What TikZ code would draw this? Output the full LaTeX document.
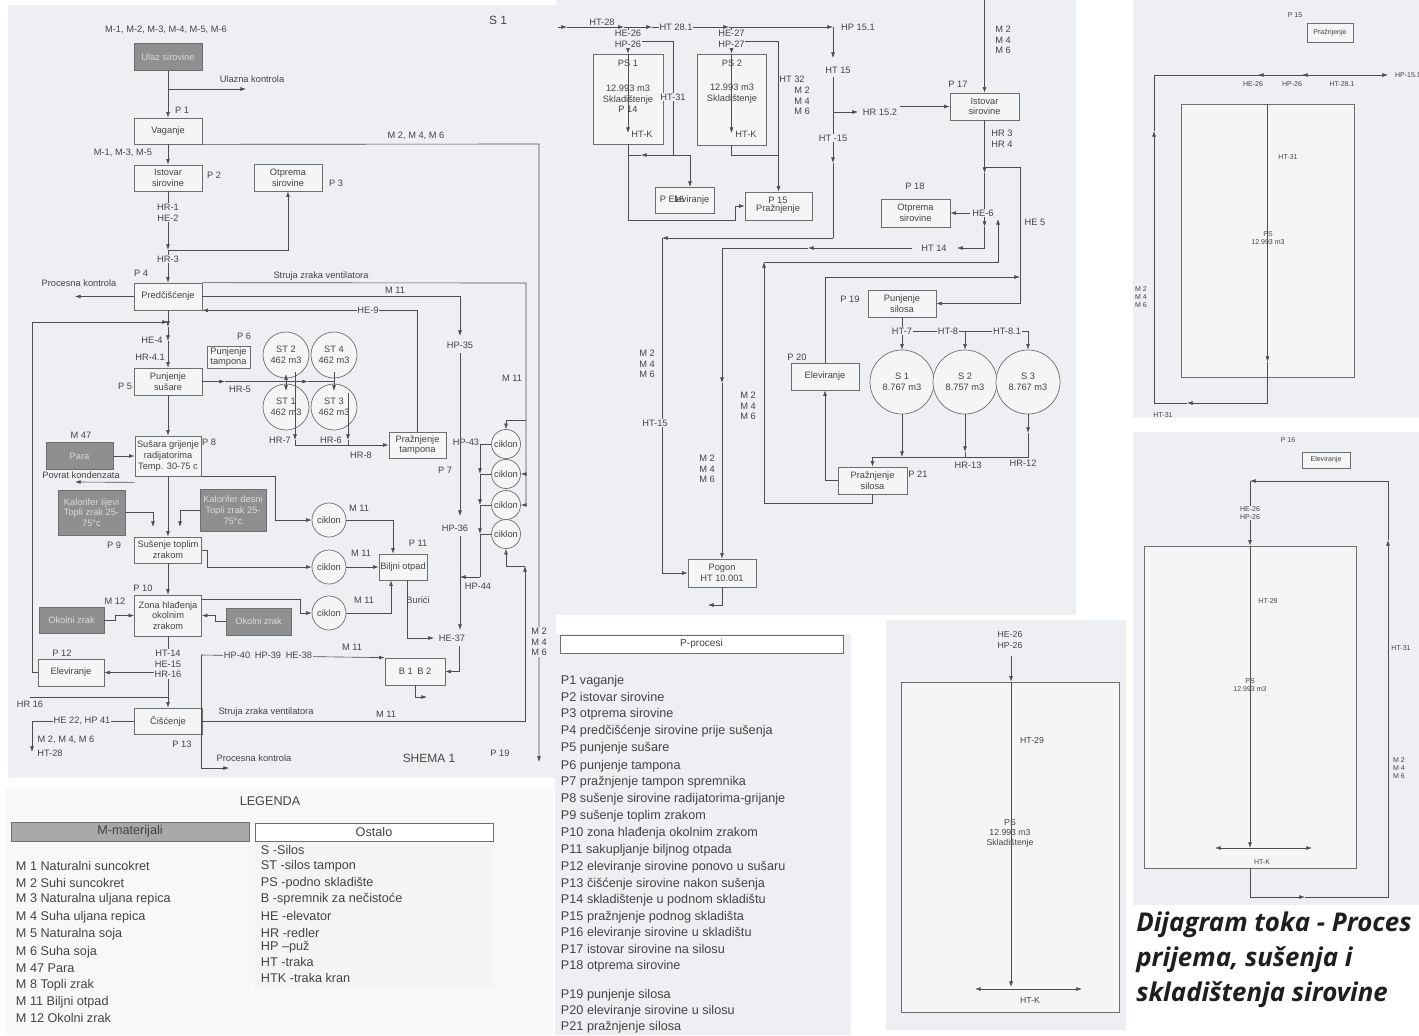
\documentclass[tikz,border=0pt]{standalone}
\usepackage{fontspec}
\setmainfont{Liberation Sans}
\newfontfamily\titlefont{Open Sans}
\usetikzlibrary{arrows.meta}

\definecolor{panel}{HTML}{EEEFF2}
\definecolor{boxfill}{HTML}{F5F5F6}
\definecolor{linec}{HTML}{4D4D4D}
\definecolor{boxc}{HTML}{6E6E6E}
\definecolor{txt}{HTML}{444444}
\definecolor{darkbox}{HTML}{8F8F8F}
\definecolor{darktxt}{HTML}{DADADA}
\definecolor{headbox}{HTML}{A8A8A8}
\definecolor{titc}{HTML}{1E1E1E}

\newcommand{\diagf}{\fontsize{6.6}{7.6}\selectfont}
\newcommand{\legf}{\fontsize{9}{10.5}\selectfont}
\newcommand{\midf}{\fontsize{6.2}{7.2}\selectfont}
\newcommand{\tinyf}{\fontsize{5}{5.8}\selectfont}
\newcommand{\shemaf}{\fontsize{8.5}{10}\selectfont}
\newcommand{\titlef}{\fontsize{18.4}{22}\titlefont\bfseries\itshape}

\begin{document}
\begin{tikzpicture}[
    x=0.25mm, y=-0.25mm,
    >={Latex[length=4pt,width=2.8pt]},
    box/.style={draw=boxc, line width=0.5pt, fill=boxfill, text=txt,
        align=center, inner sep=0.5pt, font=\diagf},
    dbox/.style={box, fill=darkbox, text=darktxt},
    sz/.style 2 args={minimum width=#1*0.25mm, minimum height=#2*0.25mm},
    csz/.style={minimum size=#1*0.25mm},
    circ/.style={circle, draw=boxc, line width=0.5pt, fill=boxfill, text=txt,
        align=center, inner sep=0pt, font=\diagf},
    ln/.style={draw=linec, line width=0.45pt},
    arr/.style={ln, ->},
    dbl/.style={ln, <->},
    lbl/.style={text=txt, font=\diagf, inner sep=0.5pt, align=center},
    onl/.style={lbl, fill=panel}
]
\fill[white] (0,0) rectangle (1419,1035);
\useasboundingbox (0,0) rectangle (1419,1035);
% panels
\fill[panel] (8,5) rectangle (556,778);
\fill[panel] (556,0) rectangle (1076,615);
\fill[panel!45!white] (5,788) rectangle (553,1035);
\fill[panel!70!white] (255,842) rectangle (493,987);
\fill[panel] (555,634) rectangle (851,1035);
\fill[panel] (886,620) rectangle (1126,1030);
\fill[panel] (1133,0) rectangle (1419,418);
\fill[panel] (1133,432) rectangle (1419,905);

% ---------- SHEMA 1: prijem i susenje
\node[dbox, sz={68}{27}] (ulaz) at (168,57) {Ulaz sirovine};
\node[box, sz={68}{26}] (vaganje) at (168,131) {Vaganje};
\node[box, sz={68}{26}] (istovar) at (168,178) {Istovar\\sirovine};
\node[box, sz={68}{27}] (otprema) at (288,177.5) {Otprema\\sirovine};
\node[box, sz={68}{27}] (predc) at (168,296.5) {Predčišćenje};
\node[box, sz={68}{27}] (punsus) at (168,381.5) {Punjenje\\sušare};
\node[box, sz={43}{22}] (puntamp) at (228.5,357) {Punjenje\\tampona};
\node[circ, csz=46] (st2) at (286,355) {ST 2\\462 m3};
\node[circ, csz=46] (st4) at (334,355) {ST 4\\462 m3};
\node[circ, csz=46] (st1) at (286,407) {ST 1\\462 m3};
\node[circ, csz=46] (st3) at (334,407) {ST 3\\462 m3};
\node[box, sz={57}{26}] (praztamp) at (417.5,445) {Pražnjenje\\tampona};
\node[box, sz={66}{40}] (susara) at (168,456) {Sušara grijenje\\radijatorima\\Temp. 30-75 c};
\node[dbox, sz={67}{27}] (para) at (79.5,456) {Para};
\node[dbox, sz={67}{45}] (kallij) at (91.5,512.5) {Kalorifer lijevi\\Topli zrak 25-\\75°c};
\node[dbox, sz={66}{42}] (kaldes) at (233,510) {Kalorifer desni\\Topli zrak 25-\\75°c};
\node[box, sz={67}{26}] (sustop) at (168,550) {Sušenje toplim\\zrakom};
\node[box, sz={67}{41}] (zona) at (168,615.5) {Zona hlađenja\\okolnim\\zrakom};
\node[dbox, sz={65}{26}] (okolL) at (71.5,620) {Okolni zrak};
\node[dbox, sz={65}{27}] (okolD) at (258.5,621.5) {Okolni zrak};
\node[box, sz={66}{27}] (elev12) at (71,672.5) {Eleviranje};
\node[box, sz={68}{26}] (ciscenje) at (168,721) {Čišćenje};
\node[box, sz={48}{26}] (biljni) at (403,567) {Biljni otpad};
\node[box, sz={60}{27}] (bspr) at (415,671.5) {B 1\enspace B 2};
\node[circ, csz=34] (ck1) at (329,520) {ciklon};
\node[circ, csz=34] (ck2) at (329,567) {ciklon};
\node[circ, csz=34] (ck3) at (329,613) {ciklon};
\node[circ, csz=29] (cc1) at (506,444) {ciklon};
\node[circ, csz=29] (cc2) at (506,474) {ciklon};
\node[circ, csz=29] (cc3) at (506,505) {ciklon};
\node[circ, csz=29] (cc4) at (506,534) {ciklon};

\coordinate (ukA) at (168,89);
\coordinate (ukB) at (246,89);
\coordinate (desnoA) at (539,144);
\coordinate (desnoB) at (539,762);
\coordinate (hr3) at (168,250);
\coordinate (pkA) at (75,296.5);
\coordinate (szA) at (526,283);
\coordinate (szB) at (526,420);
\coordinate (szC) at (526,474);
\coordinate (szD) at (526,505);
\coordinate (szE) at (506,420);
\coordinate (m11A) at (460,296.5);
\coordinate (hp35) at (460,336);
\coordinate (hp35b) at (460,353);
\coordinate (hp36) at (460,516);
\coordinate (lpA) at (32,322);
\coordinate (lpB) at (168,322);
\coordinate (he4a) at (168,327);
\coordinate (he4b) at (168,341);
\coordinate (hr5a) at (225,381.5);
\coordinate (hr5b) at (308,381.5);
\coordinate (hr5c) at (334,381.5);
\coordinate (st21a) at (286,374);
\coordinate (st21b) at (286,391);
\coordinate (st43a) at (334,372);
\coordinate (st43b) at (334,391);
\coordinate (hr7a) at (295,372);
\coordinate (hr7b) at (295,440);
\coordinate (hr6a) at (348,393);
\coordinate (hr6b) at (348,440);
\coordinate (hr6c) at (348,445);
\coordinate (povA) at (75,482);
\coordinate (klA) at (153,512.5);
\coordinate (klB) at (153,527);
\coordinate (kdA) at (180,510);
\coordinate (kdB) at (180,527);
\coordinate (c1A) at (275,520);
\coordinate (c1B) at (393,520);
\coordinate (c2A) at (207,567);
\coordinate (okA) at (115,620);
\coordinate (okB) at (215,621.5);
\coordinate (z3A) at (300,613);
\coordinate (c3B) at (391,613);
\coordinate (buA) at (407,638);
\coordinate (buB) at (434,638);
\coordinate (h36A) at (460,536);
\coordinate (h36B) at (460,630);
\coordinate (h37A) at (459,646);
\coordinate (h37B) at (459,671.5);
\coordinate (boA) at (415,697);
\coordinate (boB) at (427,697);
\coordinate (hp40A) at (201,655);
\coordinate (hp40B) at (201,768);
\coordinate (pkB) at (229,768);
\coordinate (elA) at (168,672.5);
\coordinate (hr16A) at (30,697);
\coordinate (hr16B) at (168,697);
\coordinate (he22A) at (32,721);
\coordinate (he22B) at (32,752);
\coordinate (slA) at (525,721);
\coordinate (slB) at (525,566);
\coordinate (slC) at (506,566);
\coordinate (q1) at (480,444);
\coordinate (q2) at (480,474);
\coordinate (q3) at (480,505);
\coordinate (q4) at (480,534);
\coordinate (q5) at (480,577);
\coordinate (q6) at (460,577);

\draw[arr] (ulaz) -- (vaganje);
\draw[arr] (ukA) -- (ukB);
\draw[arr] (vaganje) -- (istovar);
\draw[arr] (vaganje.south east) -- (desnoA) -- (desnoB);
\draw[arr] (istovar) -- (hr3);
\draw[arr] (hr3) -| (otprema);
\draw[arr] (hr3) -- (predc);
\draw[arr] (predc) -- (pkA);
\draw[ln] (predc.north east) -- (szA) -- (szD);
\draw[arr] (szB) -- (szE) -- (cc1);
\draw[arr] (szC) -- (cc2);
\draw[arr] (szD) -- (cc3);
\draw[arr] (predc) -- (m11A) -- (hp35);
\draw[arr] (hp35b) -- (hp36);
\draw[arr] (praztamp) |- (predc.south east);
\draw[arr] (elev12) -| (lpA) -- (lpB);
\draw[arr] (predc) -- (he4a);
\draw[arr] (he4a) -- (he4b);
\draw[arr] (he4b) -- (punsus);
\draw[arr] (punsus) -- (hr5a);
\draw[arr] (hr5a) -- (hr5b);
\draw[ln] (hr5b) -- (hr5c);
\draw[dbl] (st21a) -- (st21b);
\draw[arr] (st43a) -- (st43b);
\draw[arr] (hr7a) -- (hr7b);
\draw[arr] (hr7b) |- (praztamp);
\draw[arr] (hr6a) -- (hr6b);
\draw[ln] (hr6b) -- (hr6c);
\draw[arr] (punsus) -- (susara);
\draw[arr] (para) -- (susara);
\draw[arr] ([yshift=-1.5mm]susara.south west) -- (povA);
\draw[arr] (kallij) -- (klA) -- (klB);
\draw[arr] (kaldes) -- (kdA) -- (kdB);
\draw[arr] (susara) -- (sustop);
\draw[arr] (susara.south east) -| (c1A) -- (ck1);
\draw[arr] (ck1) -- (c1B) -- (c1B |- biljni.north);
\draw[arr] (sustop) -| (c2A) -- (ck2);
\draw[arr] (ck2) -- (biljni);
\draw[arr] (sustop) -- (zona);
\draw[arr] (okolL) -- (okA) |- (zona);
\draw[arr] (okolD) -- (okB) |- (zona);
\draw[arr] ([yshift=-1.25mm]zona.north east) -| (z3A) -- (ck3);
\draw[arr] (ck3) -- (c3B) -- (c3B |- biljni.south);
\draw[arr] (buA |- biljni.south) -- (buA) -- (buB);
\draw[arr] (h36A) -- (h36B);
\draw[arr] (h37A) -- (h37B) -- (bspr);
\draw[arr] (bspr) -- (boA) -- (boB);
\draw[arr] (hp40A) -- (bspr.north west);
\draw[arr] (hp40A) -- (hp40B) -- (pkB);
\draw[arr] (zona) -- (ciscenje);
\draw[arr] (elA) -- (elev12);
\draw[ln] (hr16A) -- (hr16B);
\draw[arr] (ciscenje) -- (he22A) -- (he22B);
\draw[arr] (ciscenje) -- (slA) -- (slB);
\draw[arr] (slB) -- (slC) -- (cc4);
\draw[arr] (q1) -- (q2);
\draw[arr] (q2) -- (q3);
\draw[arr] (q3) -- (q4);
\draw[ln] (q4) -- (q5);
\draw[arr] (q5) -- (q6);
\foreach \c/\q in {cc1/q1, cc2/q2, cc3/q3, cc4/q4}
    \draw[ln] (\q) -- (\c);

\node[lbl, font=\shemaf] (s1lbl) at (498,20) {S 1};
\node[lbl] (matIn) at (166,30) {M-1, M-2, M-3, M-4, M-5, M-6};
\node[lbl] (ulKon) at (252,79) {Ulazna kontrola};
\node[lbl] (p1) at (182,110) {P 1};
\node[lbl] (m246a) at (416,136) {M 2, M 4, M 6};
\node[lbl] (m135) at (123,153) {M-1, M-3, M-5};
\node[lbl] (p2) at (214,175) {P 2};
\node[lbl] (p3) at (336,183) {P 3};
\node[onl] (hr1) at (168,212.5) {HR-1\\HE-2};
\node[onl] (hr3l) at (168,259) {HR-3};
\node[lbl] (p4) at (141,273) {P 4};
\node[lbl] (prKon) at (79,283) {Procesna kontrola};
\node[lbl] (struja1) at (321,276) {Struja zraka ventilatora};
\node[lbl] (m11a) at (395,290) {M 11};
\node[onl] (hp35l) at (460,345) {HP-35};
\node[onl] (he9) at (368,310) {HE-9};
\node[lbl] (he4) at (152,340) {HE-4};
\node[lbl] (hr41) at (150,357) {HR-4.1};
\node[lbl] (p5) at (125,386) {P 5};
\node[lbl] (p6) at (244,336) {P 6};
\node[lbl] (hr5) at (240,389) {HR-5};
\node[lbl] (hr7) at (280,440) {HR-7};
\node[lbl] (hr6) at (331,440) {HR-6};
\node[lbl] (hr8) at (361,455) {HR-8};
\node[lbl] (p7) at (445,470) {P 7};
\node[lbl] (m47) at (81,435) {M 47};
\node[lbl] (povrat) at (81,475) {Povrat kondenzata};
\node[lbl] (p8) at (209,442) {P 8};
\node[lbl] (m11b) at (359,508) {M 11};
\node[lbl] (p9) at (114,545) {P 9};
\node[lbl] (m11c) at (361,553) {M 11};
\node[lbl] (p11) at (418,543) {P 11};
\node[lbl] (p10) at (143,588) {P 10};
\node[lbl] (m12) at (115,601) {M 12};
\node[lbl] (m11d) at (364,600) {M 11};
\node[lbl] (burici) at (418,600) {Burići};
\node[lbl] (hp36l) at (455,528) {HP-36};
\node[lbl] (he37) at (452,638) {HE-37};
\node[lbl] (hp43) at (466,442) {HP-43};
\node[lbl] (hp44) at (478,586) {HP-44};
\node[lbl] (m11e) at (512,378) {M 11};
\node[onl] (ht14) at (168,664) {HT-14\\HE-15\\HR-16};
\node[lbl] (p12) at (62,653) {P 12};
\node[lbl] (hr16) at (30,704) {HR 16};
\node[lbl] (p13) at (182,744) {P 13};
\node[onl] (he22) at (82,721) {HE 22, HP 41};
\node[lbl] (m246b) at (66,740) {M 2, M 4, M 6};
\node[lbl] (ht28a) at (50,753) {HT-28};
\node[lbl] (struja2) at (266,712) {Struja zraka ventilatora};
\node[lbl] (m11f) at (386,714) {M 11};
\node[onl] (hp40) at (268,655) {HP-40\enspace HP-39\enspace HE-38};
\node[lbl] (m11g) at (352,647) {M 11};
\node[lbl] (prKon2) at (254,758) {Procesna kontrola};
\node[lbl, font=\shemaf] (shema) at (429,758) {SHEMA 1};
\node[onl] (m246c) at (539,642) {M 2\\M 4\\M 6};
\node[lbl] (p19a) at (500,753) {P 19};

% ---------- skladistenje i silosi
\node[box, sz={70}{90}] (ps1) at (628,99) {};
\node[box, sz={69}{91}] (ps2) at (731.5,99.5) {};
\node[box, sz={59}{26}] (elev16) at (684.5,200) {P Eleviranje};
\node[box, sz={67}{28}] (praz15) at (778.5,206) {};
\node[box, sz={69}{27}] (ist17) at (984.5,106.5) {Istovar\\sirovine};
\node[box, sz={69}{28}] (otp18) at (915.5,213) {Otprema\\sirovine};
\node[box, sz={68}{27}] (punsil) at (902,303.5) {Punjenje\\silosa};
\node[circ, csz=64] (s1) at (902,382) {S 1\\8.767 m3};
\node[circ, csz=64] (s2) at (965,382) {S 2\\8.757 m3};
\node[circ, csz=64] (s3) at (1028,382) {S 3\\8.767 m3};
\node[box, sz={68}{27}] (elev20) at (825,376.5) {Eleviranje};
\node[box, sz={69}{27}] (prsil) at (872.5,480.5) {Pražnjenje\\silosa};
\node[box, sz={68}{28}] (pogon) at (722,573) {Pogon\\HT 10.001};

\coordinate (tA) at (558,27);
\coordinate (tB) at (567,27);
\coordinate (tC) at (624,27);
\coordinate (tD) at (652,27);
\coordinate (tF) at (729,27);
\coordinate (tG) at (833,27);
\coordinate (tH) at (833,58);
\coordinate (d26) at (628,27);
\coordinate (d27) at (731.5,27);
\coordinate (h31A) at (642,41);
\coordinate (h31B) at (673,155);
\coordinate (k1) at (628,133);
\coordinate (k2) at (731.5,133);
\coordinate (b1m) at (641,155);
\coordinate (b1) at (628,155);
\coordinate (b2e) at (690,187);
\coordinate (b3) at (628,220);
\coordinate (b4) at (735,220);
\coordinate (p27A) at (745,41);
\coordinate (p27M) at (778.5,155);
\coordinate (u1) at (833,77);
\coordinate (u2) at (833,112);
\coordinate (u3) at (833,163);
\coordinate (u4) at (833,238);
\coordinate (u5) at (662,238);
\coordinate (u7) at (858,112);
\coordinate (u8) at (900,106.5);
\coordinate (v0) at (984.5,0);
\coordinate (w1) at (984.5,167);
\coordinate (w2) at (984.5,173);
\coordinate (w3) at (984.5,227);
\coordinate (w4) at (984.5,248);
\coordinate (w5) at (957,248);
\coordinate (w6) at (912,248);
\coordinate (w7) at (808,248);
\coordinate (w8) at (722,248);
\coordinate (w9) at (722,383);
\coordinate (he6) at (970,213);
\coordinate (x1) at (1020,167);
\coordinate (x2) at (1020,303.5);
\coordinate (y2) at (1020,277);
\coordinate (z0) at (764,262);
\coordinate (z1) at (998,262);
\coordinate (z2) at (998,219);
\coordinate (z4) at (764,503);
\coordinate (sc1) at (902,331);
\coordinate (sc2) at (965,331);
\coordinate (sc3) at (1028,331);
\coordinate (r1) at (902,457);
\coordinate (r2) at (965,452);
\coordinate (r2c) at (965,457);
\coordinate (r3) at (1028,433);
\coordinate (r4) at (1028,457);
\coordinate (r5) at (872.5,457);
\coordinate (q20) at (825,480.5);
\coordinate (po1) at (722,605);
\coordinate (po2) at (708,605);

\draw[arr] (tA) -- (tB);
\draw[arr] (tB) -- (tC);
\draw[arr] (tC) -- (tD);
\draw[arr] (tD) -- (tF);
\draw[arr] (tF) -- (tG);
\draw[arr] (tG) -- (tH);
\draw[arr] (d26) -- (ps1);
\draw[arr] (d27) -- (ps2);
\draw[ln] (h31A) -| (h31B);
\draw[arr] (ps1.north) -- (k1);
\draw[arr] (ps2.north) -- (k2);
\draw[arr] (h31B) -- (b1m);
\draw[ln] (b1m) -- (b1);
\draw[arr] (h31B) -| (b2e);
\draw[arr] (ps1) -- (b3) -- (b4) |- (praz15);
\draw[arr] (p27A) -| (praz15);
\draw[ln] (ps2) |- (p27M);
\draw[ln] (u1) -- (u2);
\draw[arr] (u2) -- (u3);
\draw[ln] (u3) -- (u4);
\draw[arr] (u4) -- (u5);
\draw[arr] (u5) |- (pogon);
\draw[arr] (u2) -- (u7);
\draw[arr] (u8) -- (ist17);
\draw[arr] (v0) -- (ist17);
\draw[arr] (ist17) -- (w2);
\draw[arr] (w2) -- (w3);
\draw[arr] (he6) -- (otp18);
\draw[ln] (w3) -- (w4);
\draw[arr] (w4) -- (w5);
\draw[arr] (w6) -- (w7);
\draw[ln] (w7) -- (w8);
\draw[arr] (w8) -- (w9);
\draw[arr] (w9) -- (pogon);
\draw[arr] (w1) -- (x1) -- (x2) -- (punsil);
\draw[arr] (elev20) |- (y2);
\draw[arr] (prsil) |- (z4) -- (z0);
\draw[arr] (z0) -- (z1) -- (z2);
\draw[ln] (punsil) -- (sc1) -- (sc3);
\draw[arr] (sc1) -- (s1);
\draw[arr] (sc2) -- (s2);
\draw[arr] (sc3) -- (s3);
\draw[arr] (s1) -- (r1);
\draw[arr] (s2) -- (r2);
\draw[ln] (r2) -- (r2c);
\draw[arr] (s3) -- (r3);
\draw[ln] (r3) -- (r4) -- (r5);
\draw[arr] (r5) -- (prsil);
\draw[arr] (prsil) -- (q20) -- (elev20);
\draw[arr] (pogon) -- (po1) -- (po2);

\node[lbl] (ht28b) at (602,22) {HT-28};
\node[onl] (ht281) at (676,27) {HT 28.1};
\node[lbl] (hp151) at (858,27) {HP 15.1};
\node[onl] (he26a) at (628,39) {HE-26\\HP-26};
\node[onl] (he27) at (731.5,39) {HE-27\\HP-27};
\node[onl] (ht31a) at (673,97) {HT-31};
\node[lbl] (ps1t) at (628,63) {PS 1};
\node[lbl] (ps1v) at (628,99) {12.993 m3\\Skladištenje\\P 14};
\node[lbl] (htk1) at (642,134) {HT-K};
\node[lbl] (ps2t) at (732,63) {PS 2};
\node[lbl] (ps2v) at (732,94) {12.993 m3\\Skladištenje};
\node[lbl] (htk2) at (746,134) {HT-K};
\node[lbl] (ht32) at (792,79) {HT 32};
\node[lbl] (m246d) at (802,101) {M 2\\M 4\\M 6};
\node[lbl] (el16) at (679,199) {16};
\node[lbl] (p15a) at (778,200) {P 15};
\node[lbl] (praz15t) at (778,209) {Pražnjenje};
\node[lbl] (ht15) at (838,70) {HT 15};
\node[onl] (ht15b) at (833,138) {HT -15};
\node[lbl] (hr152) at (880,112) {HR 15.2};
\node[lbl] (m246e) at (1003,40) {M 2\\M 4\\M 6};
\node[lbl] (p17) at (958,84) {P 17};
\node[lbl] (hr34) at (1002,138.5) {HR 3\\HR 4};
\node[lbl] (p18) at (915,186) {P 18};
\node[onl] (he6l) at (983,213) {HE-6};
\node[lbl] (he5) at (1035,222) {HE 5};
\node[lbl] (ht14b) at (934,248) {HT 14};
\node[lbl] (p19b) at (850,299) {P 19};
\node[onl] (ht7) at (902,331) {HT-7};
\node[onl] (ht8) at (948,331) {HT-8};
\node[onl] (ht81) at (1007,331) {HT-8.1};
\node[lbl] (p20) at (797,357) {P 20};
\node[lbl] (m246f) at (647,364) {M 2\\M 4\\M 6};
\node[onl] (ht15c) at (655,423) {HT-15};
\node[lbl] (m246g) at (748,406) {M 2\\M 4\\M 6};
\node[lbl] (m246h) at (707,469) {M 2\\M 4\\M 6};
\node[lbl] (hr13) at (968,465) {HR-13};
\node[lbl] (hr12) at (1023,463) {HR-12};
\node[lbl] (p21) at (918,474) {P 21};

% ---------- P-procesi
\node[box, sz={283}{18}, fill=white, font=\fontsize{7.2}{8}\selectfont] (pproc) at (701.5,644) {P-procesi};
\foreach \n/\t/\y in {1/P1 vaganje/681, 2/P2 istovar sirovine/697,
    3/P3 otprema sirovine/714, 4/P4 predčišćenje sirovine prije sušenja/731,
    5/P5 punjenje sušare/748, 6/P6 punjenje tampona/766,
    7/P7 pražnjenje tampon spremnika/782,
    8/P8 sušenje sirovine radijatorima-grijanje/799,
    9/P9 sušenje toplim zrakom/816, 10/P10 zona hlađenja okolnim zrakom/833,
    11/P11 sakupljanje biljnog otpada/850,
    12/P12 eleviranje sirovine ponovo u sušaru/867,
    13/P13 čišćenje sirovine nakon sušenja/884,
    14/P14 skladištenje u podnom skladištu/900,
    15/P15 pražnjenje podnog skladišta/917,
    16/P16 eleviranje sirovine u skladištu/933,
    17/P17 istovar sirovine na silosu/949, 18/P18 otprema sirovine/966,
    19/P19 punjenje silosa/995, 20/P20 eleviranje sirovine u silosu/1011,
    21/P21 pražnjenje silosa/1027}
    \node[lbl, anchor=west, font=\legf] (proc\n) at (560,\y) {\t};

% ---------- legenda
\node[lbl, font=\legf] (legenda) at (270,801) {LEGENDA};
\node[box, sz={238}{19}, fill=headbox, font=\legf] (mmat) at (130,831.5) {M-materijali};
\node[box, sz={238}{18}, fill=white, font=\legf] (ostalo) at (374,832) {Ostalo};
\foreach \n/\t/\y in {1/M 1 Naturalni suncokret/866, 2/M 2 Suhi suncokret/883,
    3/M 3 Naturalna uljana repica/899, 4/M 4 Suha uljana repica/917,
    5/M 5 Naturalna soja/934, 6/M 6 Suha soja/952, 7/M 47 Para/968,
    8/M 8 Topli zrak/985, 9/M 11 Biljni otpad/1002, 10/M 12 Okolni zrak/1018}
    \node[lbl, anchor=west, font=\legf] (mat\n) at (15,\y) {\t};
\foreach \n/\t/\y in {1/S -Silos/850, 2/ST -silos tampon/866,
    3/PS -podno skladište/883, 4/B -spremnik za nečistoće/899,
    5/HE -elevator/916, 6/HR -redler/933, 7/HP –puž/947, 8/HT -traka/962,
    9/HTK -traka kran/978}
    \node[lbl, anchor=west, font=\legf] (ost\n) at (260,\y) {\t};

% ---------- podno skladiste (sredina dolje)
\node[box, sz={218}{330}] (psdole) at (1010,847) {};
\coordinate (md1) at (1011,656);
\coordinate (md2) at (1011,987);
\coordinate (hkA) at (975,989);
\coordinate (hkB) at (1082,989);
\draw[arr] (md1) -- (md1 |- psdole.north);
\draw[arr] (md1 |- psdole.north) -- (md2);
\draw[dbl] (hkA) -- (hkB);
\node[lbl, font=\midf] (he26b) at (1010,640) {HE-26\\HP-26};
\node[lbl, font=\midf] (ht29a) at (1032,740) {HT-29};
\node[lbl, font=\midf] (psd) at (1010,833) {PS\\12.993 m3\\Skladištenje};
\node[lbl, font=\midf] (htk3) at (1030,1000) {HT-K};

% ---------- desno gore
\node[box, sz={46}{19}, font=\tinyf] (praz15r) at (1330,32.5) {Pražnjenje};
\node[box, sz={173}{273}] (psr) at (1267.5,240.5) {};
\coordinate (ra) at (1154,75);
\coordinate (rb) at (1388,75);
\coordinate (rc0) at (1330,75);
\coordinate (rc) at (1302,75);
\coordinate (rd0) at (1285,75);
\coordinate (rd) at (1258,75);
\coordinate (rv1) at (1267.5,362);
\coordinate (rv2) at (1267.5,403);
\coordinate (rv4) at (1187,403);
\coordinate (rv3) at (1154,403);
\coordinate (rv5) at (1154,131);
\draw[arr] (ra) -- (rb);
\draw[arr] (rc0) -- (rc);
\draw[arr] (rd0) -- (rd);
\draw[arr] (psr.north) -- (rv1);
\draw[ln] (rv1) -- (rv2);
\draw[arr] (rv2) -- (rv4);
\draw[ln] (rv4) -- (rv3);
\draw[arr] (rv3) -- (rv5);
\draw[ln] (rv5) -- (ra);
\node[lbl, font=\tinyf] (p15b) at (1295,15) {P 15};
\node[lbl, font=\tinyf] (he26c) at (1253,84) {HE-26};
\node[lbl, font=\tinyf] (hp26c) at (1292,84) {HP-26};
\node[lbl, font=\tinyf] (ht281r) at (1342,84) {HT-28.1};
\node[lbl, font=\tinyf, anchor=west] (hp151r) at (1394,75) {HP-15.1};
\node[lbl, font=\tinyf] (ht31b) at (1288,157) {HT-31};
\node[lbl, font=\tinyf] (psr1) at (1268,238) {PS\\12.993 m3};
\node[lbl, font=\tinyf] (m246i) at (1141,297) {M 2\\M 4\\M 6};
\node[lbl, font=\tinyf] (ht31c) at (1163,415) {HT-31};

% ---------- desno dolje
\node[box, sz={48}{16}, font=\tinyf] (elev16r) at (1326,460) {Eleviranje};
\node[box, sz={212}{322}] (psr2) at (1250,707) {};
\coordinate (eA) at (1250,897);
\coordinate (eB) at (1305,897);
\coordinate (eC) at (1388,897);
\coordinate (eD) at (1388,540);
\coordinate (eE) at (1388,481);
\coordinate (eF) at (1250,481);
\coordinate (eG) at (1250,848);
\coordinate (hkC) at (1215,848);
\coordinate (hkD) at (1312,848);
\draw[arr] (psr2) -- (eA) -- (eB);
\draw[arr] (eB) -- (eC) -- (eD);
\draw[arr] (eD) -- (eE) -- (eF);
\draw[arr] (eF) -- (psr2);
\draw[arr] (psr2.north) -- (eG);
\draw[dbl] (hkC) -- (hkD);
\node[lbl, font=\tinyf] (p16) at (1288,440) {P 16};
\node[onl, font=\tinyf] (he26d) at (1250,513) {HE-26\\HP-26};
\node[lbl, font=\tinyf] (ht29b) at (1268,601) {HT-29};
\node[lbl, font=\tinyf] (psr3) at (1250,685) {PS\\12.993 m3};
\node[lbl, font=\tinyf] (htk4) at (1262,862) {HT-K};
\node[lbl, font=\tinyf] (ht31d) at (1401,648) {HT-31};
\node[lbl, font=\tinyf] (m246j) at (1399,768) {M 2\\M 4\\M 6};

% ---------- naslov
\node[anchor=west, inner sep=0pt, text=titc, font=\titlef] (tit1) at (1136,925) {Dijagram toka - Proces};
\node[anchor=west, inner sep=0pt, text=titc, font=\titlef] (tit2) at (1136,960) {prijema, sušenja i};
\node[anchor=west, inner sep=0pt, text=titc, font=\titlef] (tit3) at (1136,995) {skladištenja sirovine};
\end{tikzpicture}
\end{document}
